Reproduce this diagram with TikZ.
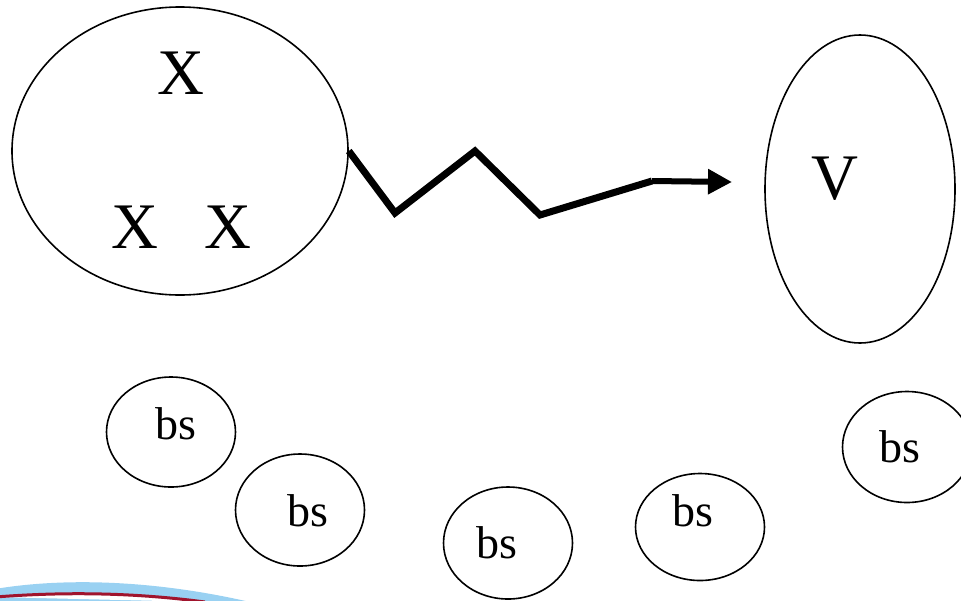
\documentclass[tikz,border=0pt]{standalone}
\usepackage{fontspec}
\setmainfont{Liberation Serif}
\usetikzlibrary{shapes.geometric, arrows.meta}

\definecolor{bandblue}{RGB}{153,209,242}
\definecolor{bandred}{RGB}{160,20,45}

\begin{document}
\begin{tikzpicture}[x=0.5pt, y=-0.5pt,
		blob/.style={ellipse, draw, line width=0.8pt, inner sep=0pt},
		bigtxt/.style={font=\fontsize{32.5}{39}\selectfont, inner sep=0pt},
		bstxt/.style={font=\fontsize{23}{28}\selectfont, inner sep=0pt}]
		% --- Frame ---
		\useasboundingbox (0,0) rectangle (961,600);
		\clip (0,0) rectangle (961,600);
		
		% --- Source Set ---
		\node[blob, minimum width=168pt, minimum height=144pt] (src) at (180,151) {};
		\node[bigtxt] (xtop) at (181,73) {X};
		\node[bigtxt] (xleft) at (135,227) {X};
		\node[bigtxt] (xright) at (228,227) {X};
		
		% --- Target Set ---
		\node[blob, minimum width=95pt, minimum height=154pt] (tgt) at (860,189) {};
		\node[bigtxt] (vlab) at (835,179) {V};
		
		% --- Zigzag Map ---
		\coordinate (bendA) at (395,213);
		\coordinate (bendB) at (475,151);
		\coordinate (bendC) at (540,215);
		\coordinate (shaft) at (652,181);
		\coordinate (tip) at (732,182);
		\draw[line width=3.5pt] (src.east) -- (bendA) -- (bendB) -- (bendC) -- (shaft);
		\draw[line width=3pt, -{Triangle[length=12pt, width=12pt]}] (shaft) -- (tip);
		
		% --- Small Sets ---
		\node[blob, minimum width=64.5pt, minimum height=55pt] (bsA) at (171,432) {};
		\node[bstxt] (bsAlab) at (176,424) {bs};
		
		\node[blob, minimum width=64.5pt, minimum height=56pt] (bsB) at (300,510) {};
		\node[bstxt] (bsBlab) at (308,511) {bs};
		
		\node[blob, minimum width=64.5pt, minimum height=56pt] (bsC) at (508,543) {};
		\node[bstxt] (bsClab) at (497,543) {bs};
		
		\node[blob, minimum width=64.5pt, minimum height=53.5pt] (bsD) at (700,527) {};
		\node[bstxt] (bsDlab) at (693,511) {bs};
		
		\node[blob, minimum width=64.5pt, minimum height=55.5pt] (bsE) at (907,447) {};
		\node[bstxt] (bsElab) at (900,447) {bs};
		
		% --- Corner Band ---
		\fill[bandblue] (-5,589) .. controls (60,578) and (150,579) .. (250,602) -- (-5,602) -- cycle;
		\fill[white] (-5,597) .. controls (60,592) and (130,592) .. (205,602) -- cycle;
		\draw[bandred, line width=1.5pt] (-5,597) .. controls (60,592) and (130,592) .. (205,602);
	\end{tikzpicture}
\end{document}
